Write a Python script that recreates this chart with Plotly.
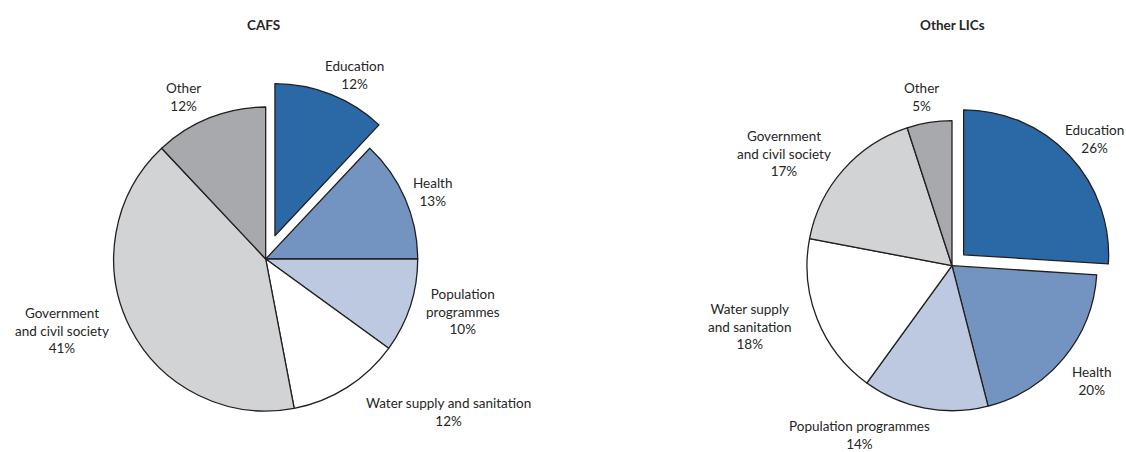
import plotly.graph_objects as go

# Sector shares of aid (%)
sectors = [
    "Education",
    "Health",
    "Population programmes",
    "Water supply and sanitation",
    "Government and civil society",
    "Other",
]
cafs_values = [12, 13, 10, 12, 41, 12]
lics_values = [26, 20, 14, 18, 17, 5]

# Label text per sector (line breaks differ between the two pies)
cafs_labels = [
    "Education",
    "Health",
    "Population<br>programmes",
    "Water supply and sanitation",
    "Government<br>and civil society",
    "Other",
]
lics_labels = [
    "Education",
    "Health",
    "Population programmes",
    "Water supply<br>and sanitation",
    "Government<br>and civil society",
    "Other",
]

colors = ["#2a69a6", "#7394c1", "#bcc9e1", "#ffffff", "#d1d3d4", "#a7a9ac"]

W, H = 1126, 452
FONT = "Lato, 'Open Sans', sans-serif"
TEXT_COLOR = "#262626"


def domain_for(cx, cy, r, pull):
    """Domain (paper fractions) giving a pie of radius r centred at (cx, cy) px."""
    half = r * (1 + pull)
    return dict(
        x=[(cx - half) / W, (cx + half) / W],
        y=[(H - (cy + half)) / H, (H - (cy - half)) / H],
    )


def pie(values, centre, r, pull):
    return go.Pie(
        labels=sectors,
        values=values,
        sort=False,
        direction="clockwise",
        rotation=0,
        pull=[pull] + [0] * (len(values) - 1),
        marker=dict(colors=colors, line=dict(color="#231f20", width=1.3)),
        textinfo="none",
        hoverinfo="label+percent",
        showlegend=False,
        domain=domain_for(*centre, r, pull),
    )


fig = go.Figure()
fig.add_trace(pie(cafs_values, (265.7, 259), 152, 0.165))
fig.add_trace(pie(lics_values, (952, 265.7), 145, 0.11))

# Label centres in pixels, in sector order
cafs_label_pos = [(354, 75), (433, 192), (463, 311), (448, 412), (62, 330), (183, 97)]
lics_label_pos = [(1094, 139), (1092, 381), (860, 434.5), (750, 326), (784, 153), (921, 97)]

annotations = []
for texts, vals, positions in (
    (cafs_labels, cafs_values, cafs_label_pos),
    (lics_labels, lics_values, lics_label_pos),
):
    for t, v, (px, py) in zip(texts, vals, positions):
        annotations.append(
            dict(
                text=f"{t}<br>{v}%",
                x=px / W,
                y=1 - py / H,
                xref="paper",
                yref="paper",
                xanchor="center",
                yanchor="middle",
                align="center",
                showarrow=False,
                font=dict(family=FONT, size=13.5, color=TEXT_COLOR),
            )
        )

for title, (px, py) in (("CAFS", (263, 25)), ("Other LICs", (952, 25))):
    annotations.append(
        dict(
            text=f"<b>{title}</b>",
            x=px / W,
            y=1 - py / H,
            xref="paper",
            yref="paper",
            xanchor="center",
            yanchor="middle",
            showarrow=False,
            font=dict(family=FONT, size=13.5, color=TEXT_COLOR),
        )
    )

fig.update_layout(
    width=W,
    height=H,
    margin=dict(l=0, r=0, t=0, b=0),
    paper_bgcolor="white",
    plot_bgcolor="white",
    annotations=annotations,
)

fig.write_html("out.html")
